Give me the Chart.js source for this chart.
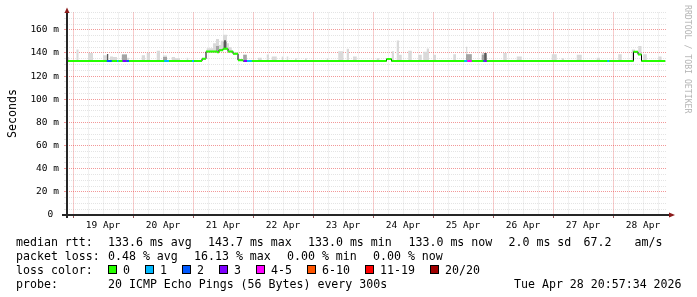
<!DOCTYPE html>
<html><head><meta charset="utf-8">
<script src="https://cdn.jsdelivr.net/npm/chart.js@4.4.1/dist/chart.umd.min.js"></script>
<style>
html,body{margin:0;padding:0;background:#fff;}
#wrap{position:relative;width:697px;height:297px;overflow:hidden;background:#fff;}
canvas{position:absolute;left:0;top:0;}
.t{position:absolute;font-family:'DejaVu Sans Mono',monospace;font-size:11.6px;line-height:14px;color:#000;white-space:pre;}
.box{position:absolute;width:7px;height:7px;border:1px solid #000;}
#ylab{position:absolute;left:4.5px;top:138px;transform-origin:0 0;transform:rotate(-90deg);}
#wm{position:absolute;left:692px;top:5px;transform-origin:0 0;transform:rotate(90deg);font-family:'DejaVu Sans Mono',monospace;font-size:8.2px;line-height:9px;color:#b4b4b4;white-space:pre;}
</style></head><body>
<div id="wrap"><canvas id="c" width="697" height="297"></canvas>
<div id="ylab" class="t">Seconds</div>
<div id="wm">RRDTOOL / TOBI OETIKER</div>
</div>
<script>
// ---- axis labels ----
const dayLabels = ['19 Apr','20 Apr','21 Apr','22 Apr','23 Apr','24 Apr','25 Apr','26 Apr','27 Apr','28 Apr'];
const yLabels = ['0 ','20 m','40 m','60 m','80 m','100 m','120 m','140 m','160 m'];

// time in hours since 19 Apr 00:00
const xMin = -2.4, xMax = 237.6;

// ---- median rtt (ms), step series ----
const medianStart = [-2.4, 51.6, 53.2, 57.6, 58.4, 60.0, 62.0, 64.0, 66.0, 68.0, 125.4, 127.4, 224.2, 226.0, 227.4];
const medianValue = [133.0, 135.0, 141.2, 140.6, 142.4, 143.7, 141.2, 139.4, 133.8, 133.0, 134.8, 133.0, 141.0, 138.8, 133.0];
const medianEnd = 236.9;

// ---- loss periods: start, end, loss-class index ----
const lossStart = [13.5, 17.6, 19.8, 21.5, 36.5, 47.6, 68.2, 69.6, 156.5, 157.7, 164.1, 164.5, 213.7];
const lossEnd   = [15.5, 18.2, 21.5, 22.4, 38.4, 48.4, 69.6, 71.5, 157.7, 159.5, 164.5, 165.5, 214.5];
const lossClass = [2, 1, 3, 2, 1, 1, 3, 1, 1, 4, 2, 3, 1];
const lossLabels = ['0','1','2','3','4-5','6-10','11-19','20/20'];
const lossColors = ['#26ff00','#00b8ff','#0059ff','#7e00ff','#ff00ff','#ff5500','#ff0000','#a00000'];

// ---- smoke: [start h, end h, low ms, high ms] ----
const smokeLight = [
 [-2.4,-1.6,133,136.5],[1.4,2.2,133,143],[6.0,8.0,133,140],[12.0,13.6,133,138],
 [14.8,16.0,133,137],[16.0,17.6,133,136.5],[19.5,21.6,133,138.8],[21.6,22.4,133,136],
 [27.5,28.8,133,138],[29.5,30.8,133,140],[33.5,34.8,133,142],[36.0,37.6,133,137.8],
 [39.5,40.8,133,136.5],[40.8,42.8,133,135.5],[45.5,46.1,133,136],
 [53.5,56.0,141.2,144],[56.0,57.2,141.2,148.5],[57.2,57.6,141.2,152],[57.6,58.4,140.6,152],
 [58.4,59.1,142.4,147],[59.1,60.0,142.4,150.5],[60.0,61.6,143.7,155.7],[61.6,62.0,143.7,148.5],
 [62.0,62.4,141.2,148.5],[62.4,63.5,141.2,145],[63.5,64.0,141.2,142],[64.0,64.4,139.4,142],
 [64.4,66.0,139.4,140.5],[68.1,69.5,133,138.5],[74.0,75.5,133,135.8],[77.5,78.4,133,138.7],
 [79.5,81.5,133,137],[83.5,84.1,133,137],[85.5,86.1,133,137],[88.8,89.5,133,135.5],
 [92.8,93.5,133,135.5],[101.5,102.1,133,135.5],[106.1,108.1,133,141.6],[109.5,110.4,133,143.6],
 [112.0,113.5,133,137],[121.5,122.5,133,135.5],[127.5,128.4,133,141.6],[129.5,130.4,133,150.7],
 [130.4,131.5,133,138.5],[134.1,135.5,133,142],[138.1,139.5,133,138.5],[140.1,141.5,133,141],
 [141.5,142.4,133,143.8],[144.1,145.2,133,138.5],[152.1,153.2,133,139],[157.2,157.7,133,145.5],
 [157.7,159.5,133,139],[163.5,165.5,133,140],[172.1,173.5,133,140],[177.5,179.5,133,137],
 [191.5,193.5,133,139],[195.5,196.4,133,135.5],[201.5,203.5,133,138.5],[209.5,210.8,133,136],
 [218.1,219.5,133,139],[223.5,224.2,133,143],[224.2,224.8,141,143],[226.1,227.4,138.8,146],
 [228.1,229.5,133,139],[234.1,235.5,133,137]
];
const smokeMedium = [
 [19.5,21.6,133,138.7],[36.0,37.6,133,136.5],[57.2,57.6,141.2,146],[57.6,58.4,140.6,146],
 [60.0,61.6,143.7,150],[68.1,69.5,133,138.5],[157.2,159.5,133,139],[163.5,165.5,133,138.5]
];
const smokeDark = [
 [13.5,14.1,133,139.2],[60.4,61.2,144,151],[164.5,165.5,133,140]
];

// ---- legend texts ----
const statRow1 = [['median rtt:',16],['133.6 ms avg',108],['143.7 ms max',208],['133.0 ms min',308],['133.0 ms now',408.5],['2.0 ms sd',508.5],['67.2',583.5],['am/s',634.5]];
const statRow2 = [['packet loss:',16],['0.48 % avg',108],['16.13 % max',194],['0.00 % min',287],['0.00 % now',373]];
const probeRow = [['probe:',16],['20 ICMP Echo Pings (56 Bytes) every 300s',108],['Tue Apr 28 20:57:34 2026',514]];

// ---- build helpers ----
function buildSmoke(spans){
  const top=[], bot=[];
  spans.forEach((s,i)=>{
    top.push({x:s[0],y:s[3]}); bot.push({x:s[0],y:s[2]});
    const n=spans[i+1];
    if(!n || n[0]>s[1]){ top.push({x:s[1],y:s[2]}); bot.push({x:s[1],y:s[2]}); }
  });
  return {top,bot};
}
function medianAt(t){
  let v=medianValue[0];
  for(let i=0;i<medianStart.length;i++){ if(medianStart[i]<=t) v=medianValue[i]; }
  return v;
}
const stepPts = medianStart.map((s,i)=>({x:s,y:medianValue[i]}));
stepPts.push({x:medianEnd,y:medianValue[medianValue.length-1]});
const greenPts = [];
medianStart.forEach((s,i)=>{
  const e = i+1<medianStart.length ? medianStart[i+1] : medianEnd;
  greenPts.push({x:s,y:medianValue[i]},{x:e,y:medianValue[i]},{x:e,y:null});
});
const lossPts = [];
lossStart.forEach((s,i)=>{
  const v = medianAt(s+0.01), c = lossColors[lossClass[i]];
  lossPts.push({x:s,y:v,c},{x:lossEnd[i],y:v,c},{x:lossEnd[i],y:null,c});
});
const sl = buildSmoke(smokeLight), sm = buildSmoke(smokeMedium), sd = buildSmoke(smokeDark);

const xTicks=[]; for(let v=0; v<=234; v+=6) xTicks.push({value:v});
const yTicks=[]; for(let v=0; v<=175; v+=5) yTicks.push({value:v});

const MINOR='rgba(150,150,150,0.26)', MAJOR='rgba(230,50,50,0.50)';
const T='rgba(0,0,0,0)';
const smokeDs = (data, color, order, fill) => ({data, borderColor:T, backgroundColor:color, borderWidth:1, stepped:true, fill, order, pointRadius:0});

const axesPlugin = {
  id:'axes',
  afterDraw(chart){
    const {ctx, chartArea:a} = chart;
    ctx.save();
    ctx.fillStyle='#262626';
    ctx.fillRect(a.left-5, a.bottom-1, a.right+2-(a.left-5), 2);
    ctx.fillRect(a.left-1, a.top, 2, a.bottom+3-a.top);
    ctx.fillStyle='#8b1a1a';
    ctx.beginPath(); ctx.moveTo(a.left-2.5,a.top+0.5); ctx.lineTo(a.left+2.5,a.top+0.5); ctx.lineTo(a.left,a.top-5); ctx.closePath(); ctx.fill();
    ctx.beginPath(); ctx.moveTo(a.right+2,a.bottom-2.5); ctx.lineTo(a.right+2,a.bottom+2.5); ctx.lineTo(a.right+8,a.bottom); ctx.closePath(); ctx.fill();
    ctx.restore();
  }
};

new Chart(document.getElementById('c'), {
  type:'line',
  data:{datasets:[
    {data:lossPts, borderWidth:2, borderColor:'#00b8ff', segment:{borderColor:c=>lossPts[c.p0DataIndex].c}, spanGaps:false, fill:false, order:1, pointRadius:0},
    {data:greenPts, borderWidth:2, borderColor:'#26ff00', spanGaps:false, fill:false, order:2, pointRadius:0},
    {data:stepPts, borderWidth:1, borderColor:'#000', stepped:true, fill:false, order:3, pointRadius:0},
    smokeDs(sd.top,'#5a5a5a',4,'+1'), smokeDs(sd.bot,T,5,false),
    smokeDs(sm.top,'#a4a4a4',6,'+1'), smokeDs(sm.bot,T,7,false),
    smokeDs(sl.top,'#dadada',8,'+1'), smokeDs(sl.bot,T,9,false)
  ]},
  options:{
    responsive:false, animation:false, devicePixelRatio:1,
    layout:{padding:{left:0,right:30,top:12.5,bottom:62}},
    elements:{point:{radius:0}, line:{borderCapStyle:'butt', tension:0}},
    plugins:{legend:{display:false}, tooltip:{enabled:false}},
    scales:{
      x:{type:'linear', min:xMin, max:xMax,
        afterBuildTicks:s=>{s.ticks=xTicks.map(t=>({value:t.value}));},
        afterFit:s=>{s.height=20;},
        border:{display:false, dash:[1,1]},
        grid:{color:c=>(c.tick && c.tick.value%24===0)?MAJOR:MINOR, lineWidth:1, tickLength:3,
              tickColor:c=>(c.tick && c.tick.value%24===0)?'rgba(120,40,40,0.8)':T},
        ticks:{autoSkip:false, maxRotation:0, minRotation:0, padding:1.5, color:'#000',
               font:{family:'DejaVu Sans Mono', size:9.5},
               callback:v=>{const k=(v-12)/24; return (Number.isInteger(k)&&dayLabels[k])?dayLabels[k]:'';}}
      },
      y:{min:0, max:175,
        afterBuildTicks:s=>{s.ticks=yTicks.map(t=>({value:t.value}));},
        afterFit:s=>{s.width=67;},
        border:{display:false, dash:[1,1]},
        grid:{color:c=>(c.tick && c.tick.value%20===0)?MAJOR:MINOR, lineWidth:1, tickLength:3,
              tickColor:c=>(c.tick && c.tick.value%20===0)?MAJOR:MINOR},
        ticks:{autoSkip:false, padding:5, color:'#000', font:{family:'DejaVu Sans Mono', size:9.5},
               callback:v=>(v%20===0)?yLabels[v/20]:''}
      }
    }
  },
  plugins:[axesPlugin]
});

// ---- legend ----
const wrap=document.getElementById('wrap');
function addText(txt,x,y){const d=document.createElement('div');d.className='t';d.style.left=x+'px';d.style.top=y+'px';d.textContent=txt;wrap.appendChild(d);}
statRow1.forEach(([t,x])=>addText(t,x,235));
statRow2.forEach(([t,x])=>addText(t,x,249));
addText('loss color:',16,263);
let bx=108;
lossLabels.forEach((lab,i)=>{
  const b=document.createElement('div');b.className='box';b.style.left=bx+'px';b.style.top='265px';b.style.background=lossColors[i];wrap.appendChild(b);
  addText(lab,bx+15,263);
  bx += 15 + 7*lab.length + 15;
});
probeRow.forEach(([t,x])=>addText(t,x,277));
</script>
</body></html>
